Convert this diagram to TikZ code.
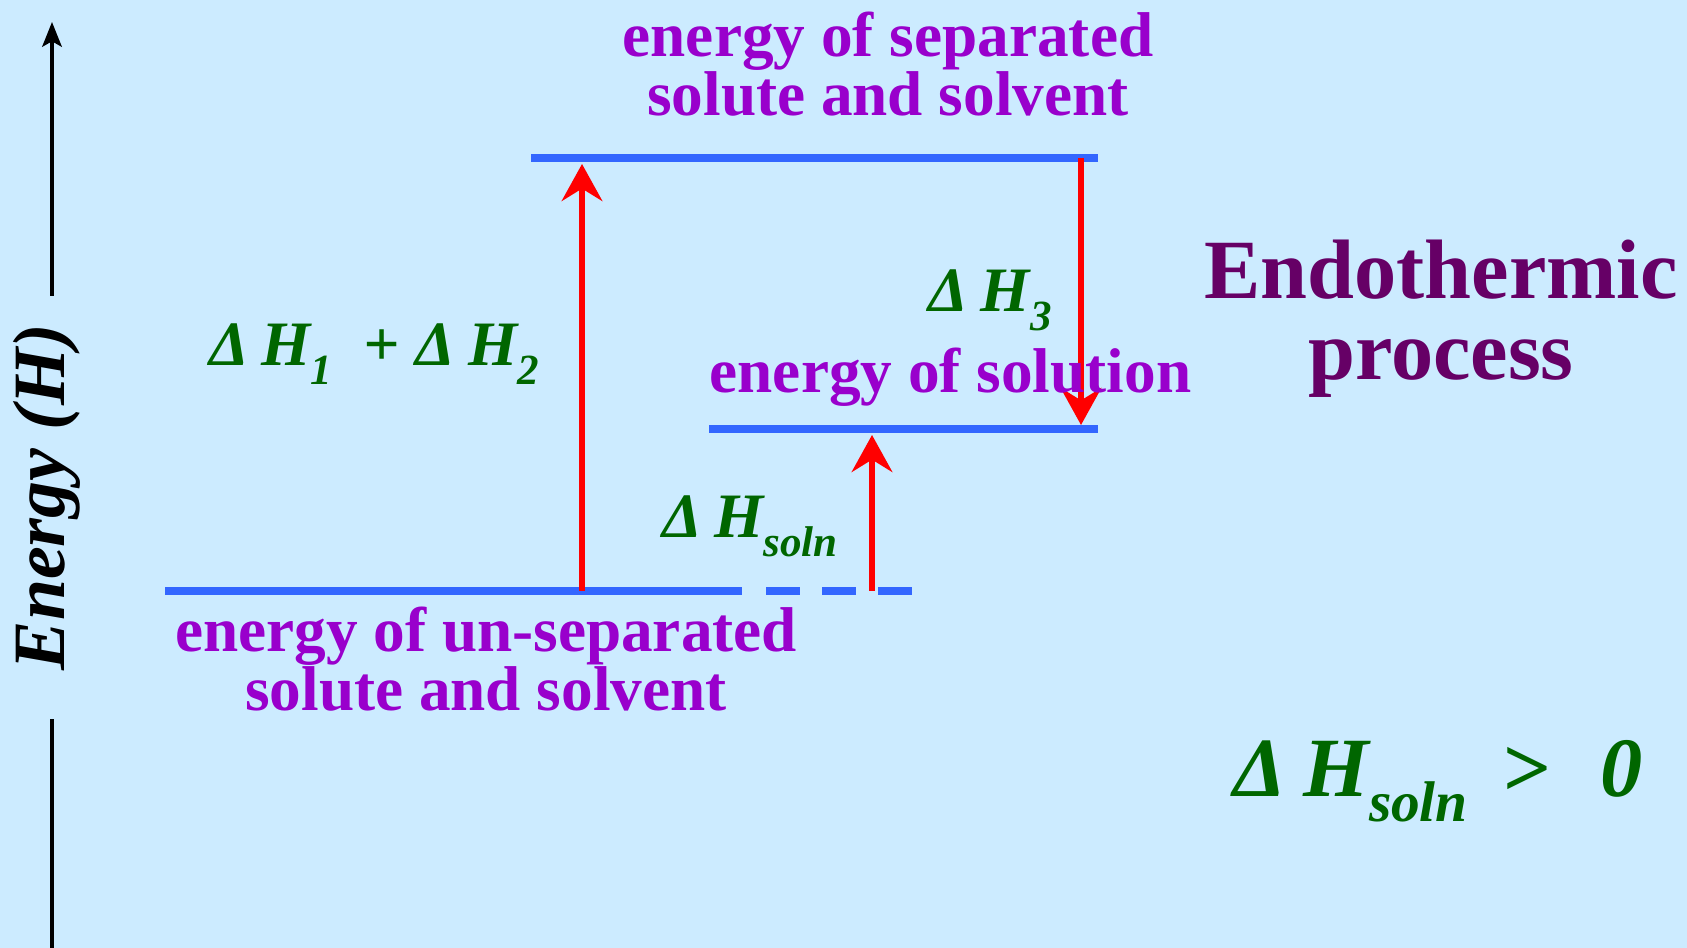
\documentclass[tikz,border=0pt]{standalone}
\usepackage{fontspec}
\setmainfont{Liberation Serif}
\usepackage{tikz}
\usetikzlibrary{arrows.meta,positioning}
\usepackage{graphicx}
\definecolor{skybg}{HTML}{CCEBFF}
\definecolor{levelblue}{HTML}{3366FF}
\definecolor{labelpurple}{HTML}{9900CC}
\definecolor{plum}{HTML}{660066}
\definecolor{dhgreen}{HTML}{006600}
\newcommand{\dH}{Δ\hspace{0.2em}H}
\newcommand{\lowsub}[1]{\raisebox{-0.3em}{\scalebox{0.68}{#1}}}

\begin{document}
\begin{tikzpicture}[
  level/.style={levelblue, line width=2.3pt},
  lvldash/.style={level, dash pattern=on 3.4mm off 2.2mm},
  rarr/.style={-{Stealth[length=10.5pt,width=11.5pt,inset=3.5pt]}, red, line width=1.8pt},
  axarr/.style={-{Stealth[length=7pt,width=5.5pt,inset=1.5pt]}, black, line width=1.2pt},
  lbl/.style={font=\fontsize{18}{17}\selectfont\bfseries, text=labelpurple, align=center, inner sep=0pt},
  dh/.style={font=\fontsize{18}{20}\selectfont\bfseries\itshape, text=dhgreen, inner sep=0pt}
]
  \fill[skybg] (0,0) rectangle (16.87,-9.48);
  \useasboundingbox (0,0) rectangle (16.87,-9.48);

  % energy axis
  \coordinate (axtop) at (0.52,-0.22);
  \coordinate (axgap1) at (0.52,-2.96);
  \coordinate (axgap2) at (0.52,-7.19);
  \coordinate (axbot) at (0.52,-9.48);
  \node[rotate=90, anchor=base, inner sep=0pt, font=\fontsize{21}{24}\selectfont\bfseries\itshape] (ylabel) at (0.65,-4.97) {Energy (H)};
  \draw[axarr] (axgap1) -- (axtop);
  \draw[black, line width=1.2pt] (axbot) -- (axgap2);

  % levels
  \coordinate (topL) at (5.31,-1.58);
  \coordinate (topR) at (10.98,-1.58);
  \coordinate (midL) at (7.09,-4.29);
  \coordinate (midR) at (10.98,-4.29);
  \coordinate (botL) at (1.65,-5.91);
  \coordinate (botM) at (7.42,-5.91);
  \coordinate (dashL) at (7.66,-5.91);
  \coordinate (dashR) at (9.13,-5.91);
  \draw[level] (topL) -- (topR);
  \draw[level] (midL) -- (midR);
  \draw[level] (botL) -- (botM);
  \draw[lvldash] (dashL) -- (dashR);

  % arrows between levels
  \coordinate (up1s) at (5.82,-5.91);
  \coordinate (up1e) at (5.82,-1.64);
  \coordinate (dn3s) at (10.81,-1.58);
  \coordinate (dn3e) at (10.81,-4.25);
  \coordinate (upss) at (8.72,-5.91);
  \coordinate (upse) at (8.72,-4.35);
  \draw[rarr] (up1s) -- (up1e);
  \draw[rarr] (dn3s) -- (dn3e);
  \draw[rarr] (upss) -- (upse);

  % labels
  \node[lbl, anchor=north] (seplbl) at (8.88,-0.11) {energy of separated\\solute and solvent};
  \node[lbl, anchor=north] (unseplbl) at (4.86,-6.06) {energy of un-separated\\solute and solvent};
  \node[lbl, anchor=base west] (sollbl) at (7.09,-3.93) {energy of solution};
  \node[font=\fontsize{24}{23}\selectfont\bfseries, text=plum, align=center, inner sep=0pt, anchor=north] (endo) at (14.41,-2.39) {Endothermic\\process};
  \node[dh, anchor=base] (dh12) at (3.74,-3.66) {\dH\lowsub{1}\hspace{0.5em}+\hspace{0.25em}\dH\lowsub{2}};
  \node[dh, anchor=base] (dh3) at (9.90,-3.12) {\dH\lowsub{3}};
  \node[dh, anchor=base] (dhsol) at (7.50,-5.38) {\dH\lowsub{soln}};
  \node[dh, font=\fontsize{24}{28}\selectfont\bfseries\itshape, anchor=base] (dhsign) at (14.38,-7.96) {\dH\lowsub{soln}\hspace{0.4em}>\hspace{0.6em}0};
\end{tikzpicture}
\end{document}
